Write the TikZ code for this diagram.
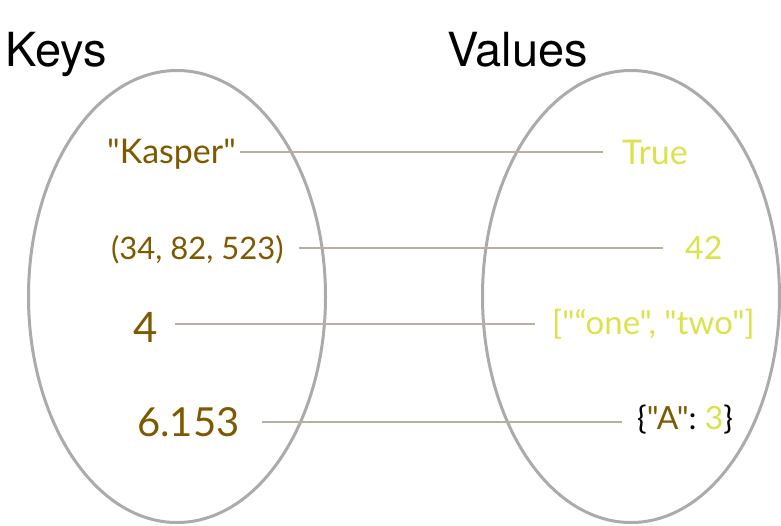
\documentclass[tikz,border=0pt]{standalone}
\usepackage{fontspec}
\usetikzlibrary{shapes.geometric}
\newfontfamily\gfont{Lato}
\newfontfamily\hfont{TeX Gyre Heros}
\definecolor{keybrown}{HTML}{7D5A00}
\definecolor{valyellow}{HTML}{DCE24B}
\definecolor{ringgray}{HTML}{ABABAB}
\definecolor{linkgray}{HTML}{B8B0A0}
\begin{document}
\begin{tikzpicture}[x=1pt,y=-1pt,
  ring/.style={draw=ringgray, line width=3pt, ellipse, inner sep=0pt, minimum width=297pt, minimum height=452pt},
  link/.style={draw=linkgray, line width=1.8pt},
  keytext/.style={text=keybrown, inner sep=0pt, anchor=base west},
  valtext/.style={text=valyellow, inner sep=0pt, anchor=base west},
  head/.style={inner sep=0pt, anchor=base west, font=\hfont\fontsize{47}{47}\selectfont}]
\useasboundingbox (0,0) rectangle (781,525);
\node[ring] (left) at (177,296.5) {};
\node[ring] (right) at (631,296.5) {};
\node[head] (hk) at (5,66) {Keys};
\node[head] (hv) at (447,66) {Values};
\node[keytext, font=\gfont\fontsize{34}{34}\selectfont] (k1) at (107,163) {"Kasper"};
\node[keytext, font=\gfont\fontsize{31}{31}\selectfont] (k2) at (111,259) {(34, 82, 523)};
\node[keytext, font=\gfont\fontsize{42}{42}\selectfont] (k3) at (133,342) {4};
\node[keytext, font=\gfont\fontsize{40}{40}\selectfont] (k4) at (137,436) {6.153};
\node[valtext, font=\gfont\fontsize{34}{34}\selectfont] (v1) at (622,164) {True};
\node[valtext, font=\gfont\fontsize{32}{32}\selectfont] (v2) at (685,259) {42};
\node[valtext, font=\gfont\fontsize{33}{33}\selectfont] (v3) at (552,334) {["“one", "two"]};
\node[inner sep=0pt, anchor=base west, font=\gfont\fontsize{32}{32}\selectfont] (v4) at (637,429) {\{\textcolor{keybrown}{"A"}:~\textcolor{valyellow}{3}\}};
\draw[link, shorten <=4pt, shorten >=19pt] ([yshift=11pt]k1.base east) -- ([yshift=12pt]v1.base west);
\draw[link, shorten <=15pt, shorten >=22pt] ([yshift=11pt]k2.base east) -- ([yshift=11pt]v2.base west);
\draw[link, shorten <=17pt, shorten >=17pt] ([yshift=18pt]k3.base east) -- ([yshift=10pt]v3.base west);
\draw[link, shorten <=22pt, shorten >=15pt] ([yshift=14pt]k4.base east) -- ([yshift=7pt]v4.base west);
\end{tikzpicture}
\end{document}
